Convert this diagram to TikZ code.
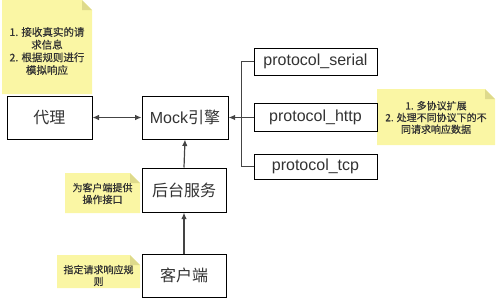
\documentclass[tikz,border=0pt]{standalone}
\usepackage{fontspec}
\setmainfont{Liberation Sans}
\newfontfamily\cjk{Noto Sans CJK SC}
\newfontfamily\cjknote[FakeBold=0.6]{Noto Sans CJK SC}
\usetikzlibrary{arrows.meta,calc}
\definecolor{noteyellow}{HTML}{FAF6A4}
\definecolor{notefold}{HTML}{DEDA8C}
\definecolor{ink}{HTML}{333333}
\definecolor{arrowc}{HTML}{444444}
\tikzset{
  box/.style={draw=black, line width=1pt, fill=white, inner sep=0pt, text=ink,
    font=\fontsize{16}{18}\selectfont},
  notetext/.style={inner sep=0pt, align=center, text=ink,
    font=\cjknote\fontsize{10}{11.8}\selectfont},
  conn/.style={draw=arrowc, line width=1.2pt},
  arr/.style={conn, -{Latex[length=6.5pt,width=5.5pt]}},
  darr/.style={conn, line width=1pt, {Latex[length=6.5pt,width=5.5pt]}-{Latex[length=6.5pt,width=5.5pt]}},
}
\newcommand{\notebg}[4]{%
  \fill[noteyellow] (#1,#2) -- ($(#3,#2)+(-10pt,0pt)$) -- ($(#3,#2)+(0pt,-10pt)$) -- (#3,#4) -- (#1,#4) -- cycle;
  \fill[notefold] ($(#3,#2)+(-10pt,0pt)$) -- ($(#3,#2)+(-10pt,-10pt)$) -- ($(#3,#2)+(0pt,-10pt)$) -- cycle;
}
\begin{document}
\begin{tikzpicture}[x=1pt,y=-1pt]
\useasboundingbox (0,0) rectangle (499,303);
% notes
\notebg{2}{0}{92}{94}
\node[notetext, font=\cjknote\fontsize{10.5}{12.7}\selectfont] (n1) at (47,51) {1. 接收真实的请\\求信息\\2. 根据规则进行\\模拟响应};
\notebg{377}{89}{495}{145}
\node[notetext] (n3) at (436,117.5) {1. 多协议扩展\\2. 处理不同协议下的不\\同请求响应数据};
\notebg{65}{173}{140}{213}
\node[notetext] (n2) at (102.5,193.5) {为客户端提供\\操作接口};
\notebg{57}{255}{140}{288}
\node[notetext] (n4) at (98.5,275.5) {指定请求响应规\\则};
% boxes
\node[box, minimum width=85pt, minimum height=43pt] (proxy) at (49.5,117.5) {\cjk 代理};
\node[box, minimum width=86pt, minimum height=43pt] (mock) at (185,117.5) {Mock{\cjk 引擎}};
\node[box, minimum width=84pt, minimum height=44pt] (backend) at (184,190) {\cjk 后台服务};
\node[box, minimum width=84pt, minimum height=43pt] (client) at (184,275.5) {\cjk 客户端};
\node[box, minimum width=123pt, minimum height=27pt] (serial) at (315.5,61.5) {protocol\_serial};
\node[box, minimum width=123pt, minimum height=28pt] (http) at (315.5,117.5) {protocol\_http};
\node[box, minimum width=123pt, minimum height=25pt] (tcp) at (315.5,166.5) {protocol\_tcp};
% connectors
\draw[darr] (proxy) -- (mock);
\draw[conn] (serial.west) -- ++(-12pt,0pt) coordinate (trunktop) |- (tcp.west);
\draw[arr] (http.west) -- (mock.east);
\draw[arr] (backend.north) -- (mock.south);
\draw[arr] (client.north) -- (backend.south);
\end{tikzpicture}
\end{document}
